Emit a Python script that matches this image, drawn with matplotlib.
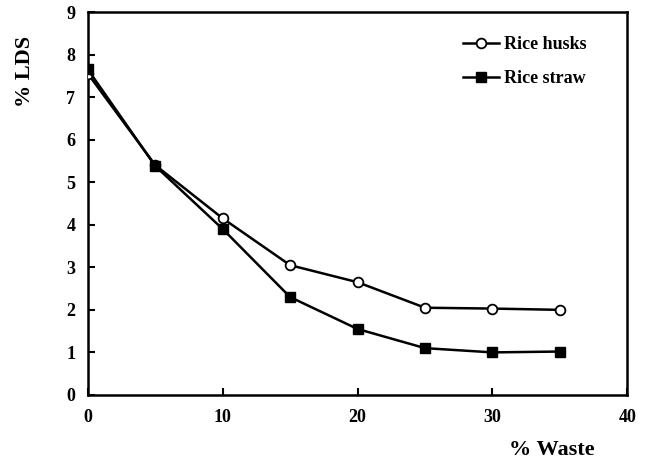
import matplotlib
matplotlib.use("Agg")
import matplotlib.pyplot as plt

waste = [0, 5, 10, 15, 20, 25, 30, 35]
rice_husks = [7.55, 5.40, 4.15, 3.05, 2.65, 2.05, 2.03, 2.00]
rice_straw = [7.65, 5.38, 3.90, 2.30, 1.55, 1.10, 1.00, 1.02]

plt.rcParams['font.family'] = ['Liberation Serif', 'DejaVu Serif']
plt.rcParams['font.weight'] = 'bold'

fig = plt.figure(figsize=(6.46, 4.63), dpi=100)
ax = fig.add_axes([0.136, 0.147, 0.835, 0.827])

ax.plot(waste, rice_husks, color='black', lw=1.8, marker='o', ms=7,
        mfc='white', mec='black', mew=1.3, label='Rice husks', zorder=3)
ax.plot(waste, rice_straw, color='black', lw=1.8, marker='s', ms=7,
        mfc='black', mec='black', label='Rice straw', zorder=3)

ax.set_xlim(0, 40)
ax.set_ylim(0, 9)
ax.set_xticks([0, 10, 20, 30, 40])
ax.set_yticks(range(0, 10))

for s in ax.spines.values():
    s.set_linewidth(1.8)

ax.tick_params(axis='both', direction='in', length=5, width=1.5,
               labelsize=13)
ax.tick_params(axis='x', pad=10)
ax.tick_params(axis='y', pad=9)
for lbl in ax.get_xticklabels() + ax.get_yticklabels():
    lbl.set_fontweight('bold')

fig.text(0.039, 0.845, '% LDS', rotation=90, ha='center', va='center',
         fontsize=16, fontweight='bold')
fig.text(0.92, 0.028, '% Waste', ha='right', va='center',
         fontsize=16, fontweight='bold')

leg = ax.legend(loc='upper right', bbox_to_anchor=(0.955, 0.98), frameon=False,
                fontsize=13, handlelength=2.0, handletextpad=0.3,
                labelspacing=0.95)
for t in leg.get_texts():
    t.set_fontweight('bold')

fig.savefig('out.png', dpi=100)
